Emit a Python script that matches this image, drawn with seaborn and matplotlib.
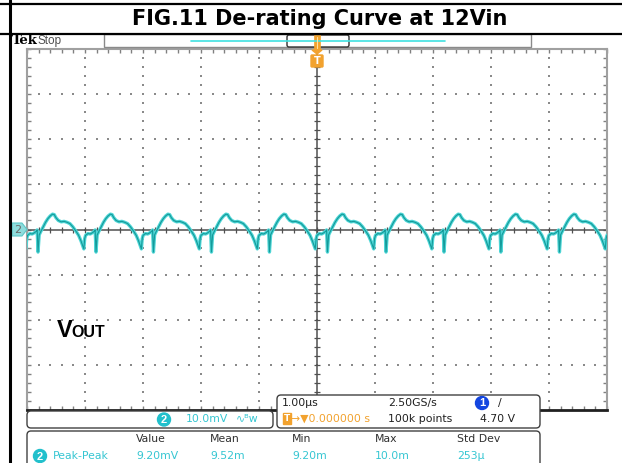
import numpy as np
import matplotlib
matplotlib.use("Agg")
import matplotlib.pyplot as plt
import seaborn as sns
import pandas as pd
from matplotlib.patches import FancyBboxPatch, Circle, Polygon, Rectangle

# one ripple cycle, phase 0 = bottom of the switching spike (mV)
cycle_phase = [0.00, 0.02, 0.05, 0.09, 0.13, 0.17, 0.21, 0.25, 0.28, 0.31, 0.35, 0.40,
               0.45, 0.50, 0.55, 0.60, 0.65, 0.70, 0.74, 0.77, 0.79, 0.805, 0.82, 0.86,
               0.90, 0.94, 0.97, 0.985]
cycle_mv = [-5.0, -1.2, -0.4, 0.6, 1.6, 2.4, 3.0, 3.4, 3.3, 2.6, 2.0, 1.7,
            1.8, 1.6, 1.3, 0.6, -0.3, -1.3, -2.5, -3.6, -4.3, -2.0, -1.3, -0.9,
            -1.0, -0.7, -0.4, -0.1]
# where the spikes sit on the time axis (us, 0 = trigger)
spike_us = [-5.81, -4.81, -3.81, -2.82, -1.82, -0.82, 0.18, 1.19, 2.19, 3.17, 4.18, 5.18]

meas_headers = ["Value", "Mean", "Min", "Max", "Std Dev"]
meas_values = ["9.20mV", "9.52m", "9.20m", "10.0m", "253µ"]

CYAN = '#36c6d2'
ORANGE = '#f2a22e'

rows = []
for i in range(len(spike_us) - 1):
    t0, t1 = spike_us[i], spike_us[i + 1]
    for p, v in zip(cycle_phase, cycle_mv):
        rows.append((t0 + p * (t1 - t0), v))
df = pd.DataFrame(rows, columns=['t', 'mv'])

sns.set_style("white")
plt.rcParams['text.color'] = 'black'
fig = plt.figure(figsize=(6.22, 4.63), dpi=100)

# scope graticule: 10 div x 8 div, 1us/div, 10mV/div
ax = fig.add_axes([27 / 622, (463 - 410) / 463, 580 / 622, 361 / 463])
ax.set_xlim(-5, 5)
ax.set_ylim(-40, 40)
ax.set_xticks(np.arange(-5, 5.01, 1))
ax.set_xticks(np.arange(-5, 5.01, 0.2), minor=True)
ax.set_yticks(np.arange(-40, 40.1, 10))
ax.set_yticks(np.arange(-40, 40.1, 2), minor=True)
ax.tick_params(which='both', direction='in', length=3, width=1, color='#808080',
               top=True, right=True, bottom=True, left=True,
               labelbottom=False, labelleft=False)
for s in ['top', 'left', 'right']:
    ax.spines[s].set_color('#a0a0a0')
    ax.spines[s].set_linewidth(1.5)
ax.spines['bottom'].set_color('#202020')
ax.spines['bottom'].set_linewidth(2)

# dotted grid
for gx in range(-4, 5):
    if gx == 0:
        continue
    ys = np.arange(-40, 40.1, 2)
    ax.scatter(np.full(len(ys), gx), ys, s=1.1, marker='s', c='#8a8a8a', linewidths=0, zorder=1)
for gy in range(-30, 31, 10):
    if gy == 0:
        continue
    xs = np.arange(-5, 5.01, 0.2)
    ax.scatter(xs, np.full(len(xs), gy), s=1.1, marker='s', c='#8a8a8a', linewidths=0, zorder=1)

# centre cross with ticks
ax.axhline(0, color='#505050', lw=1.1, zorder=2)
ax.axvline(0, color='#505050', lw=1.1, zorder=2)
xs = np.arange(-5, 5.01, 0.2)
ax.scatter(xs, np.zeros(len(xs)), marker='|', s=14, c='#505050', linewidths=0.9, zorder=2)
ys = np.arange(-40, 40.1, 2)
ax.scatter(np.zeros(len(ys)), ys, marker='_', s=14, c='#505050', linewidths=0.9, zorder=2)

# the ripple trace
sns.lineplot(data=df, x='t', y='mv', ax=ax, color='#4ed6d6', linewidth=2.4,
             estimator=None, sort=False, zorder=3)
sns.lineplot(data=df, x='t', y='mv', ax=ax, color='#149a9a', linewidth=0.8,
             estimator=None, sort=False, zorder=4)
ax.set_xlabel('')
ax.set_ylabel('')

# everything around the graticule, in pixel units
ov = fig.add_axes([0, 0, 1, 1], facecolor='none')
ov.set_xlim(0, 622)
ov.set_ylim(463, 0)
ov.axis('off')

ov.plot([10, 10], [0, 463], color='black', lw=2.2)
ov.plot([0, 622], [4, 4], color='black', lw=1.6)
ov.plot([0, 622], [34, 34], color='black', lw=1.6)
ov.text(320, 19, 'FIG.11 De-rating Curve at 12Vin', ha='center', va='center',
        fontsize=15, fontweight='bold', family='DejaVu Sans', color='black')

ov.text(12, 41, 'Tek', ha='left', va='center', fontsize=9.5, fontweight='bold',
        family='DejaVu Serif', color='black')
ov.text(38, 41, 'Stop', ha='left', va='center', fontsize=8.5, color='#505050',
        family='Liberation Sans')

# record bar at top
ov.add_patch(Rectangle((104, 34), 427, 13, fill=False, ec='#8a8a8a', lw=1))
ov.plot([191, 445], [40.5, 40.5], color='#40e0e0', lw=1.2)
ov.add_patch(FancyBboxPatch((289, 37), 58, 8, boxstyle='round,pad=2', fc='white',
                            ec='#303030', lw=1))
ov.add_patch(Rectangle((314, 35), 6, 15, fc=ORANGE, ec=ORANGE, lw=0.5))
ov.plot([317, 317], [37, 48], color='#ffe0a0', lw=0.8)
ov.add_patch(Polygon([[312, 50], [322, 50], [317, 54]], closed=True, fc=ORANGE, ec=ORANGE))
ov.add_patch(FancyBboxPatch((312, 56), 10, 10, boxstyle='round,pad=1', fc=ORANGE, ec=ORANGE))
ov.text(317, 61.5, 'T', ha='center', va='center', fontsize=7, color='white', fontweight='bold')

# channel 2 marker
ov.add_patch(Polygon([[12, 223], [22, 223], [27, 229.5], [22, 236], [12, 236]], closed=True,
                     fc='#8fdcdc', ec='#5cc8c8', lw=0.8))
ov.text(17.5, 230, '2', ha='center', va='center', fontsize=8, color='#6a6a6a')

# Vout label
ov.text(57, 337, 'V', ha='left', va='baseline', fontsize=17, fontweight='bold',
        family='Liberation Sans', color='black')
ov.text(71, 337, 'OUT', ha='left', va='baseline', fontsize=11.5, fontweight='bold',
        family='Liberation Sans', color='black')

def box(x0, y0, x1, y1):
    ov.add_patch(FancyBboxPatch((x0 + 4, y0 + 4), x1 - x0 - 8, y1 - y0 - 8,
                                boxstyle='round,pad=4', fc='white', ec='#404040', lw=1))

def circled(x, y, label, fc):
    ov.add_patch(Circle((x, y), 6.5, fc=fc, ec=fc))
    ov.text(x, y + 0.5, label, ha='center', va='center', fontsize=8, color='white',
            fontweight='bold', family='Liberation Sans')

small = dict(fontsize=7.8, va='center', ha='left',
             family=['Liberation Sans Narrow', 'DejaVu Sans'])

box(27, 411, 273, 428)
box(277, 395, 540, 428)
box(27, 431, 540, 480)

circled(164, 419.5, '2', '#22c0cc')
ov.text(186, 419.5, '10.0mV', color=CYAN, **small)
ov.text(236, 419.5, '∿ᴮw', color=CYAN, **small)

ov.text(282, 403, '1.00µs', color='#202020', **small)
ov.text(388, 403, '2.50GS/s', color='#202020', **small)
circled(482, 403, '1', '#1446e0')
ov.text(498, 403, '/', color='#202020', **small)
ov.add_patch(Rectangle((283, 413), 8, 11, fc=ORANGE, ec=ORANGE))
ov.text(287, 418.5, 'T', ha='center', va='center', fontsize=6.5, color='white', fontweight='bold')
ov.text(291, 418.5, '→▼0.000000 s', color=ORANGE, **small)
ov.text(388, 418.5, '100k points', color='#202020', **small)
ov.text(480, 418.5, '4.70 V', color='#202020', **small)

meas_x = [136, 210, 292, 375, 457]
for x, h, v in zip(meas_x, meas_headers, meas_values):
    ov.text(x, 439, h, color='#303030', **small)
    ov.text(x, 456, v, color=CYAN, **small)
circled(40, 456, '2', '#22c0cc')
ov.text(53, 456, 'Peak-Peak', color=CYAN, **small)

fig.savefig('out.png', dpi=100, facecolor='white')
